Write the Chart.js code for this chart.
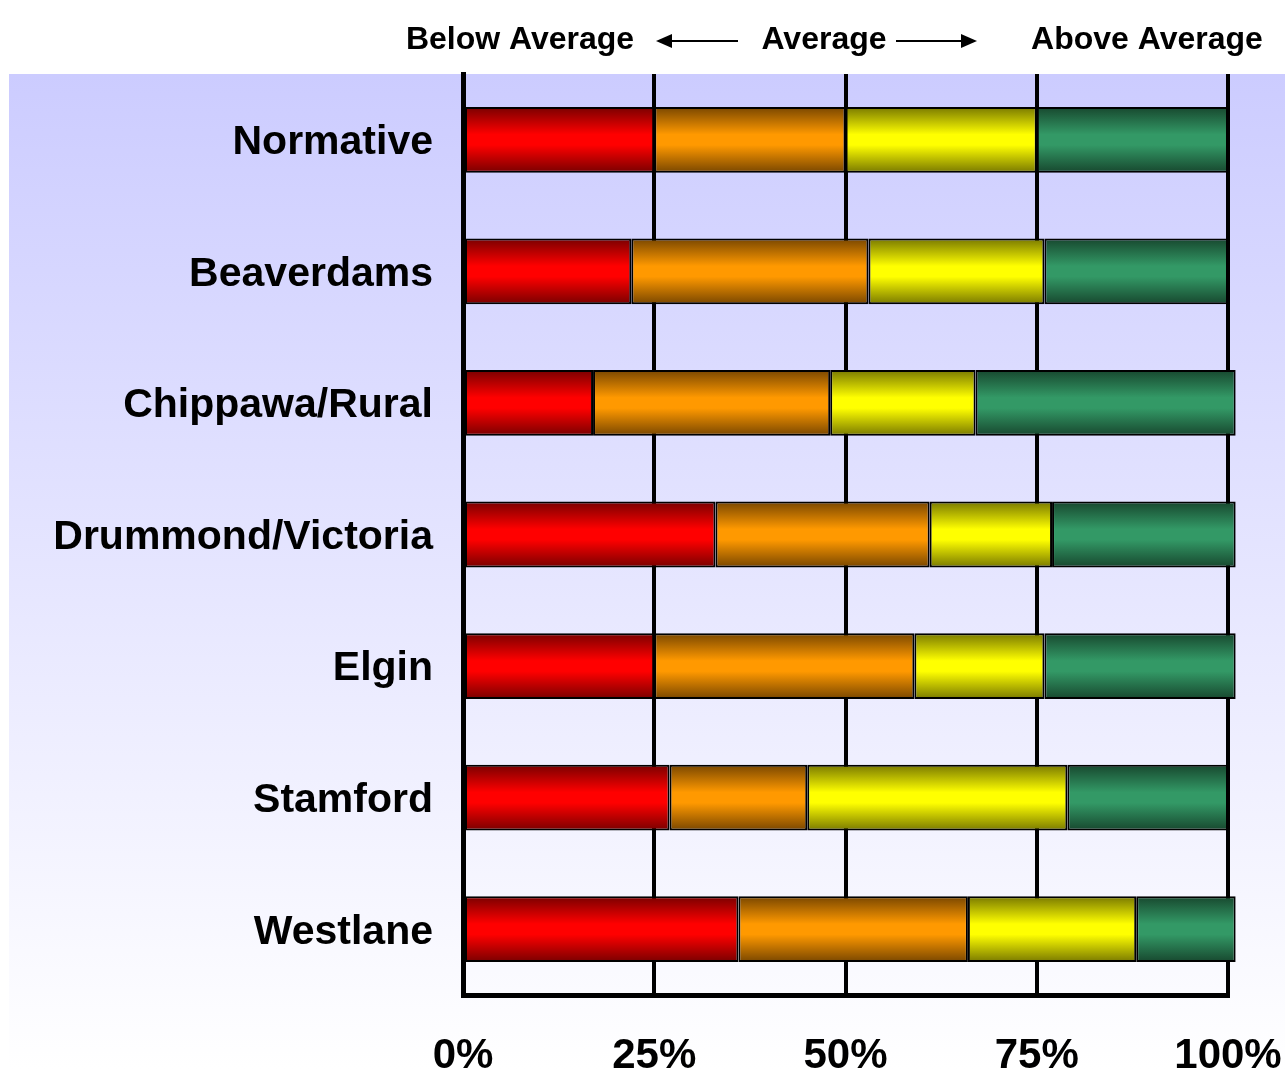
<!DOCTYPE html>
<html lang="en">
<head>
    <meta charset="UTF-8">
    <title>School Results</title>
    <script src="https://cdn.jsdelivr.net/npm/chart.js"></script>
    <style>
        body { margin: 0; background: #ffffff; }
        #chartBox { width: 1285px; height: 1069px; }
    </style>
</head>
<body>
    <div id="chartBox">
        <canvas id="resultsChart" width="1285" height="1069"></canvas>
    </div>

    <script>
        // Chart data
        const schools = ['Normative', 'Beaverdams', 'Chippawa/Rural', 'Drummond/Victoria', 'Elgin', 'Stamford', 'Westlane'];
        const band1 = [25, 22, 17, 33, 25, 27, 36];
        const band2 = [25, 31, 31, 28, 34, 18, 30];
        const band3 = [25, 23, 19, 16, 17, 34, 22];
        const band4 = [25, 24, 34, 24, 25, 21, 13];
        const headerLabels = ['Below Average', 'Average', 'Above Average'];

        const FONT = '"Liberation Sans", Arial, sans-serif';

        // vertical shine on each bar: dark edge, bright middle
        function barShade(dark, bright) {
            return function (context) {
                const chart = context.chart;
                const y = chart.scales.y;
                if (!y || !chart.chartArea) return bright;
                const c = y.getPixelForValue(context.dataIndex);
                const half = 33;
                const g = chart.ctx.createLinearGradient(0, c - half, 0, c + half);
                g.addColorStop(0, dark);
                g.addColorStop(0.42, bright);
                g.addColorStop(0.58, bright);
                g.addColorStop(1, dark);
                return g;
            };
        }

        // Background panel behind the plot
        const panelPlugin = {
            id: 'panel',
            beforeDraw(chart) {
                const ctx = chart.ctx;
                const top = chart.chartArea.top;
                const g = ctx.createLinearGradient(0, top, 0, chart.height);
                g.addColorStop(0, '#ccccff');
                g.addColorStop(1, '#ffffff');
                ctx.save();
                ctx.fillStyle = g;
                ctx.fillRect(9, top, chart.width - 9, chart.height - top);
                ctx.restore();
            }
        };

        // Header with arrows
        function arrow(ctx, x1, x2, y) {
            const dir = x2 > x1 ? 1 : -1;
            ctx.beginPath();
            ctx.moveTo(x1, y);
            ctx.lineTo(x2 - dir * 10, y);
            ctx.stroke();
            ctx.beginPath();
            ctx.moveTo(x2, y);
            ctx.lineTo(x2 - dir * 16, y - 7);
            ctx.lineTo(x2 - dir * 16, y + 7);
            ctx.closePath();
            ctx.fill();
        }

        const headerPlugin = {
            id: 'header',
            afterDraw(chart) {
                const ctx = chart.ctx;
                ctx.save();
                ctx.fillStyle = '#000000';
                ctx.strokeStyle = '#000000';
                ctx.lineWidth = 2;
                ctx.font = 'bold 32px ' + FONT;
                ctx.textBaseline = 'middle';
                ctx.textAlign = 'center';
                ctx.fillText(headerLabels[0], 520, 40);
                ctx.fillText(headerLabels[1], 824, 40);
                ctx.fillText(headerLabels[2], 1147, 40);
                arrow(ctx, 738, 656, 41);
                arrow(ctx, 896, 977, 41);
                ctx.restore();
            }
        };

        function makeSet(label, data, dark, bright) {
            return {
                label: label,
                data: data,
                backgroundColor: barShade(dark, bright),
                borderColor: '#000000',
                borderWidth: 2,
                borderSkipped: false,
                categoryPercentage: 0.5,
                barPercentage: 1.0,
                clip: false
            };
        }

        const ctx = document.getElementById('resultsChart').getContext('2d');
        window.resultsChart = new Chart(ctx, {
            type: 'bar',
            data: {
                labels: schools,
                datasets: [
                    makeSet('Band 1', band1, '#780000', '#ff0000'),
                    makeSet('Band 2', band2, '#784600', '#ff9900'),
                    makeSet('Band 3', band3, '#787800', '#ffff00'),
                    makeSet('Band 4', band4, '#17472e', '#339966')
                ]
            },
            options: {
                indexAxis: 'y',
                responsive: false,
                devicePixelRatio: 1,
                animation: false,
                layout: {
                    padding: { top: 74, right: 57, left: 0, bottom: 0 }
                },
                plugins: {
                    legend: { display: false },
                    tooltip: { enabled: false }
                },
                scales: {
                    x: {
                        stacked: true,
                        min: 0,
                        max: 100,
                        ticks: {
                            stepSize: 25,
                            color: '#000000',
                            padding: 36,
                            font: { family: FONT, size: 42, weight: 'bold' },
                            callback: v => v + '%'
                        },
                        grid: {
                            color: '#000000',
                            lineWidth: 4,
                            drawTicks: false
                        },
                        border: { color: '#000000', width: 5 },
                        afterFit(scale) {
                            scale.height = 74;
                            scale.paddingLeft = 0;
                            scale.paddingRight = 0;
                        }
                    },
                    y: {
                        stacked: true,
                        ticks: {
                            color: '#000000',
                            padding: 30,
                            labelOffset: 3,
                            font: { family: FONT, size: 41, weight: 'bold' }
                        },
                        grid: { display: false, drawTicks: false },
                        border: { color: '#000000', width: 5 },
                        afterFit(scale) {
                            scale.width = 463;
                        }
                    }
                }
            },
            plugins: [panelPlugin, headerPlugin]
        });
    </script>
</body>
</html>
